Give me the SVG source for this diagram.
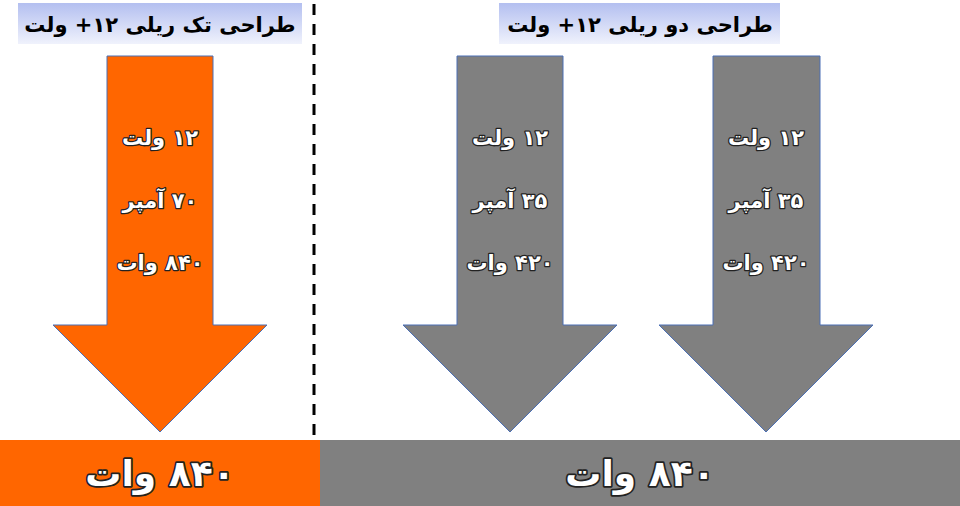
<svg xmlns="http://www.w3.org/2000/svg" width="960" height="506" viewBox="0 0 960 506">
<defs>
<linearGradient id="hdr" x1="0" y1="0" x2="0" y2="1">
<stop offset="0" stop-color="#b3bff0"/>
<stop offset="1" stop-color="#f0f2fc"/>
</linearGradient>
</defs>
<style>
.arrow{stroke:#4a6fb5;stroke-width:1}
.orange{fill:#ff6600}
.gray{fill:#808080}
.t{font-family:"DejaVu Sans",sans-serif;font-weight:bold;text-anchor:middle;direction:rtl}
.lbl{font-size:21px;fill:#ffffff;stroke:#222222;stroke-width:2.5;paint-order:stroke;stroke-linejoin:round}
.big{font-size:36px;fill:#ffffff;stroke:#222222;stroke-width:3.5;paint-order:stroke;stroke-linejoin:round}
.hd{font-size:21px;fill:#000000}
</style>
<rect width="960" height="506" fill="#ffffff"/>
<g id="header-left">
<rect x="18" y="3" width="284" height="41" fill="url(#hdr)"/>
<text class="t hd" x="160" y="32">طراحی تک ریلی ۱۲+ ولت</text>
</g>
<g id="header-right">
<rect x="499" y="3" width="281" height="41" fill="url(#hdr)"/>
<text class="t hd" x="640" y="32">طراحی دو ریلی ۱۲+ ولت</text>
</g>
<g id="connectors">
<line x1="314" y1="4" x2="314" y2="440" stroke="#000000" stroke-width="3" stroke-dasharray="11 9"/>
</g>
<g id="arrow-single">
<polygon class="arrow orange" points="107,56 213,56 213,325 267,325 160,432 53,325 107,325"/>
<text class="t lbl" x="160" y="145">۱۲ ولت</text>
<text class="t lbl" x="160" y="208">۷۰ آمپر</text>
<text class="t lbl" x="160" y="270">۸۴۰ وات</text>
</g>
<g id="arrow-dual-1">
<polygon class="arrow gray" points="457,56 563,56 563,325 617,325 510,432 403,325 457,325"/>
<text class="t lbl" x="510" y="145">۱۲ ولت</text>
<text class="t lbl" x="510" y="208">۳۵ آمپر</text>
<text class="t lbl" x="510" y="270">۴۲۰ وات</text>
</g>
<g id="arrow-dual-2">
<polygon class="arrow gray" points="713,56 820,56 820,325 873,325 766,432 659,325 713,325"/>
<text class="t lbl" x="766" y="145">۱۲ ولت</text>
<text class="t lbl" x="766" y="208">۳۵ آمپر</text>
<text class="t lbl" x="766" y="270">۴۲۰ وات</text>
</g>
<g id="total-single">
<rect x="0" y="440" width="320" height="66" fill="#ff6600"/>
<text class="t big" x="160" y="486">۸۴۰ وات</text>
</g>
<g id="total-dual">
<rect x="320" y="440" width="640" height="66" fill="#808080"/>
<text class="t big" x="640" y="486">۸۴۰ وات</text>
</g>
</svg>
